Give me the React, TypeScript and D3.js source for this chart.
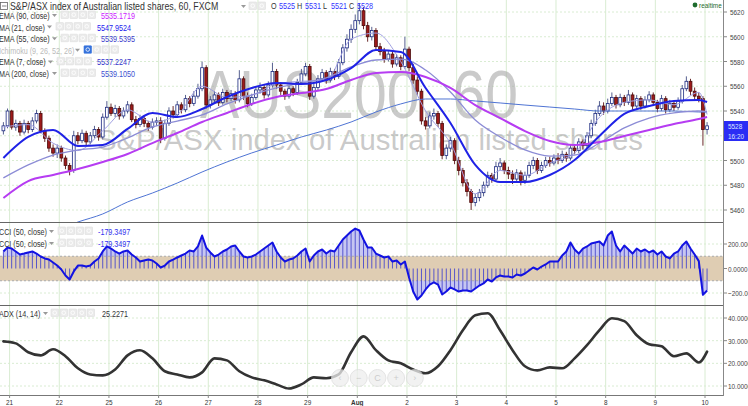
import React from "react";
import * as d3 from "d3";

// ---------- data ----------
const dayLabels = ["21", "22", "25", "26", "27", "28", "29", "Aug", "2", "3", "4", "5", "8", "9", "10"];
const barsPerDay = 12;

// bars as [high, low, close]; every bar opens at the previous close
const firstOpen = 5524;
const jul20 = [[5531, 5521, 5528], [5542, 5526, 5540]];
const jul21 = [[5541, 5525, 5527], [5533, 5524, 5530], [5532, 5520, 5523], [5533, 5521, 5530], [5532, 5522, 5525], [5535, 5523, 5532], [5541, 5530, 5538], [5540, 5522, 5524], [5526, 5515, 5518], [5520, 5507, 5510], [5513, 5503, 5506], [5513, 5502, 5510]];
const jul22 = [[5512, 5499, 5502], [5504, 5493, 5496], [5498, 5488, 5492], [5524, 5490, 5520], [5523, 5513, 5516], [5525, 5514, 5522], [5524, 5512, 5515], [5523, 5513, 5520], [5528, 5518, 5525], [5527, 5516, 5519], [5538, 5517, 5535], [5548, 5533, 5543]];
const jul25 = [[5546, 5536, 5538], [5545, 5535, 5542], [5544, 5533, 5536], [5543, 5534, 5540], [5548, 5538, 5545], [5547, 5531, 5533], [5536, 5526, 5529], [5537, 5527, 5534], [5536, 5527, 5530], [5532, 5524, 5527], [5534, 5525, 5531], [5535, 5528, 5532]];
const jul26 = [[5535, 5514, 5518], [5533, 5516, 5530], [5543, 5528, 5540], [5544, 5534, 5537], [5548, 5535, 5545], [5547, 5538, 5541], [5553, 5539, 5550], [5552, 5543, 5546], [5556, 5544, 5552], [5562, 5550, 5558], [5580, 5556, 5575], [5577, 5542, 5545]];
const jul27 = [[5552, 5542, 5549], [5556, 5546, 5553], [5555, 5544, 5547], [5558, 5545, 5555], [5557, 5547, 5550], [5557, 5548, 5554], [5556, 5546, 5549], [5573, 5547, 5566], [5568, 5549, 5552], [5555, 5543, 5546], [5554, 5544, 5551], [5560, 5549, 5557]];
const jul28 = [[5563, 5554, 5559], [5561, 5550, 5553], [5564, 5551, 5561], [5579, 5559, 5572], [5574, 5558, 5561], [5563, 5553, 5556], [5558, 5549, 5552], [5561, 5550, 5558], [5560, 5552, 5555], [5566, 5553, 5563], [5574, 5561, 5570], [5579, 5568, 5576]];
const jul29 = [[5578, 5549, 5552], [5562, 5550, 5559], [5569, 5557, 5566], [5574, 5564, 5571], [5573, 5562, 5565], [5575, 5563, 5572], [5574, 5565, 5568], [5582, 5566, 5579], [5594, 5577, 5591], [5602, 5588, 5598], [5610, 5595, 5606], [5618, 5603, 5613]];
const aug1 = [[5627, 5610, 5621], [5624, 5606, 5609], [5612, 5596, 5600], [5608, 5597, 5605], [5607, 5589, 5592], [5595, 5585, 5588], [5591, 5579, 5582], [5589, 5580, 5586], [5588, 5575, 5578], [5586, 5576, 5583], [5585, 5573, 5576], [5600, 5574, 5590]];
const aug2 = [[5592, 5572, 5575], [5578, 5562, 5565], [5568, 5553, 5556], [5558, 5529, 5532], [5535, 5525, 5528], [5539, 5526, 5536], [5542, 5533, 5538], [5540, 5527, 5530], [5532, 5501, 5504], [5513, 5501, 5510], [5519, 5507, 5516], [5518, 5497, 5500]];
const aug3 = [[5503, 5488, 5492], [5494, 5479, 5482], [5485, 5471, 5475], [5477, 5460, 5466], [5473, 5463, 5470], [5477, 5467, 5474], [5483, 5471, 5480], [5491, 5478, 5488], [5490, 5482, 5485], [5499, 5483, 5495], [5502, 5492, 5498], [5500, 5489, 5492]];
const aug4 = [[5495, 5485, 5489], [5492, 5481, 5485], [5493, 5482, 5490], [5492, 5480, 5484], [5491, 5481, 5488], [5499, 5486, 5496], [5503, 5493, 5500], [5502, 5489, 5492], [5499, 5490, 5496], [5503, 5494, 5500], [5503, 5495, 5498], [5505, 5496, 5502]];
const aug5 = [[5506, 5497, 5500], [5508, 5498, 5505], [5507, 5499, 5502], [5513, 5500, 5510], [5512, 5505, 5508], [5518, 5506, 5515], [5517, 5509, 5512], [5523, 5510, 5520], [5533, 5518, 5530], [5541, 5528, 5538], [5548, 5536, 5544], [5547, 5537, 5540]];
const aug8 = [[5550, 5538, 5546], [5555, 5544, 5551], [5553, 5542, 5545], [5554, 5543, 5551], [5553, 5544, 5547], [5557, 5545, 5553], [5555, 5541, 5544], [5553, 5542, 5550], [5552, 5541, 5544], [5552, 5542, 5549], [5556, 5547, 5553], [5555, 5544, 5547]];
const aug9 = [[5549, 5539, 5542], [5553, 5540, 5550], [5552, 5538, 5541], [5549, 5539, 5546], [5548, 5540, 5543], [5551, 5541, 5548], [5561, 5546, 5558], [5568, 5556, 5564], [5566, 5553, 5556], [5559, 5549, 5552], [5555, 5547, 5550], [5552, 5512, 5525]];
const aug10 = [[5531, 5521, 5528]];
const dayBars = [jul20, jul21, jul22, jul25, jul26, jul27, jul28, jul29, aug1, aug2, aug3, aug4, aug5, aug8, aug9, aug10];

// moving averages, one reading every 6 bars (plus the last bar)
const ema90 = [5469.7, 5483.4, 5488.3, 5493.1, 5498.8, 5505.3, 5514.1, 5522.2, 5531.1, 5538.4, 5545.7, 5551.3, 5554.5, 5557.8, 5565.1, 5570.7, 5571.5, 5567.5, 5558.6, 5544.8, 5534.3, 5523.8, 5515.8, 5512.5, 5514.9, 5519.8, 5524.6, 5529.5, 5533.5, 5535.2];
const ma21 = [5502.0, 5519.0, 5524.6, 5511.7, 5512.5, 5525.5, 5538.4, 5535.2, 5541.6, 5551.3, 5558.6, 5562.6, 5561.8, 5565.1, 5574.7, 5589.3, 5587.7, 5558.6, 5530.3, 5496.4, 5482.6, 5482.6, 5488.3, 5500.4, 5519.8, 5537.6, 5544.0, 5548.1, 5548.9, 5547.3];
const ema55 = [5485.9, 5496.4, 5504.4, 5508.5, 5510.9, 5518.2, 5527.1, 5531.9, 5536.8, 5545.7, 5552.9, 5558.6, 5562.6, 5566.7, 5575.6, 5581.2, 5582.0, 5573.1, 5555.4, 5532.7, 5519.0, 5508.5, 5503.6, 5504.4, 5514.1, 5526.3, 5534.3, 5538.4, 5540.0, 5539.5];
const ema7 = [5527, 5529, 5514, 5508, 5524, 5541, 5531, 5537, 5560, 5551, 5553, 5562, 5564, 5565, 5598, 5603, 5580, 5540, 5514, 5473, 5492, 5488, 5498, 5506, 5535, 5547, 5549, 5545, 5555, 5537.2];
// MA 200 enters the panel from below, readings from bar 12 on
const ma200 = [5443.0, 5450.3, 5456.8, 5466.5, 5473.7, 5481.8, 5490.7, 5498.8, 5506.1, 5512.5, 5519.0, 5524.6, 5531.1, 5539.2, 5545.7, 5549.7, 5549.7, 5548.1, 5546.5, 5544.8, 5543.2, 5541.6, 5540.0, 5540.0, 5540.0, 5540.0, 5539.2, 5539.1];

// CCI (50), one value per bar
const cciJul20 = [139, 171];
const cciJul21 = [163, 139, 114, 122, 131, 139, 122, 98, 82, 73, 49, 24];
const cciJul22 = [-8, -57, -90, -24, 24, 24, 16, 24, 57, 82, 139, 180];
const cciJul25 = [163, 139, 122, 139, 147, 114, 90, 57, 65, 73, 65, 41];
const cciJul26 = [8, 24, 57, 73, 90, 106, 122, 147, 139, 180, 269, 171];
const cciJul27 = [131, 98, 114, 139, 155, 180, 188, 139, 98, 90, 98, 114];
const cciJul28 = [139, 163, 188, 212, 139, 90, 57, 73, 82, 106, 139, 163];
const cciJul29 = [57, 106, 139, 155, 122, 147, 139, 188, 237, 269, 302, 326];
const cciAug1 = [310, 237, 171, 171, 122, 106, 90, 98, 57, 65, 33, 57];
const cciAug2 = [-73, -188, -253, -220, -171, -131, -114, -131, -212, -188, -155, -171];
const cciAug3 = [-188, -180, -180, -188, -163, -139, -122, -90, -106, -73, -57, -65];
const cciAug4 = [-65, -73, -49, -57, -41, -16, 8, -8, 16, 33, 57, 57];
const cciAug5 = [57, 106, 139, 212, 155, 122, 163, 180, 204, 212, 220, 188];
const cciAug8 = [269, 302, 188, 139, 188, 155, 122, 163, 139, 155, 131, 147];
const cciAug9 = [114, 139, 98, 82, 122, 139, 188, 220, 163, 114, 60, -215];
const cciAug10 = [-179.35];
const cciDays = [cciJul20, cciJul21, cciJul22, cciJul25, cciJul26, cciJul27, cciJul28, cciJul29, cciAug1, cciAug2, cciAug3, cciAug4, cciAug5, cciAug8, cciAug9, cciAug10];

// ADX (14, 14), one reading every 3 bars (plus the last bar)
const adx = [29.7, 28.8, 24.9, 23.5, 26.2, 23.1, 17.8, 15.1, 14.7, 17.3, 23.5, 25.8, 22.2, 16.5, 15.1, 13.8, 16.0, 22.2, 21.3, 16.5, 13.8, 12.5, 10.7, 8.9, 10.7, 13.8, 13.4, 15.1, 24.9, 31.9, 25.8, 21.3, 20.0, 17.3, 15.6, 18.7, 25.8, 34.6, 41.2, 42.1, 34.6, 25.8, 18.7, 16.9, 18.2, 17.8, 22.2, 28.0, 34.6, 39.9, 38.6, 32.4, 28.4, 27.5, 23.1, 24.4, 20.4, 25.2];

const priceTicks = [5460, 5480, 5500, 5520, 5540, 5560, 5580, 5600, 5620];
const hiddenPriceLabel = 5520; // covered by the last-price boxes in the reference
const cciTicks = [200, 0, -200];
const adxTicks = [40, 30, 20, 10];

const legendLabels = ["EMA (90, close)", "MA (21, close)", "EMA (55, close)", "Ichimoku (9, 26, 52, 26)", "EMA (7, close)", "MA (200, close)"];
const legendValues = ["5535.1719", "5547.9524", "5539.5395", "", "5537.2247", "5539.1050"];
const ohlcLabels = ["O", "H", "L", "C"];
const ohlcValues = ["5525", "5531", "5521", "5528"];

// ---------- layout ----------
const W = 748;
const H = 406;
const R = 723; // right edge of plotting area
const MAIN = [0, 222];
const CCI = [223, 305];
const ADX = [306, 395];
const FONT = "'Liberation Sans', Arial, sans-serif";
const SQ = 0.8; // the screenshot is horizontally squeezed

const legendStyle = [
  { color: "#cc22ff", box: 61, val: 101 },
  { color: "#2222ee", box: 56, val: 97 },
  { color: "#4040cc", box: 61, val: 101 },
  { color: "#bbbbbb", box: 84, val: 0 },
  { color: "#3434cc", box: 57, val: 97 },
  { color: "#4050d0", box: 61, val: 101 },
];

const T = ({ x, y, size = 9, fill = "#333", anchor = "start", weight = 400, sq = SQ, children }: any) => (
  <text
    transform={`translate(${x},${y}) scale(${sq},1)`}
    fontSize={size}
    fill={fill}
    textAnchor={anchor}
    fontWeight={weight}
  >
    {children}
  </text>
);

const Boxes = ({ x, y, n = 4, first }: any) => (
  <g>
    {d3.range(n).map((k) => (
      <g key={k}>
        <rect
          x={x + k * 9}
          y={y - 8}
          width={7.5}
          height={7.5}
          rx={0.5}
          fill={k === 0 && first ? first : "#ebebeb"}
          stroke={k === 0 && first ? first : "#dddddd"}
          strokeWidth={0.6}
        />
        <circle cx={x + k * 9 + 3.75} cy={y - 4.25} r={1.8} fill="none" stroke="#fff" strokeWidth={0.8} />
      </g>
    ))}
  </g>
);

const Caret = ({ x, y }: any) => <path d={`M${x},${y - 4}h5l-2.5,3z`} fill="#999" />;

export default function App() {
  let open = firstOpen;
  const bars = dayBars.flat().map(([h, l, c]) => {
    const b = { o: open, h, l, c };
    open = c;
    return b;
  });
  const cci = cciDays.flat();

  const x = d3.scaleLinear().domain([1.5, 1.5 + barsPerDay * 14]).range([9.6, 705]);
  const y = d3.scaleLinear().domain([5460, 5620]).range([210, 12]);
  const yc = d3.scaleLinear().domain([-200, 200]).range([293, 244]);
  const ya = d3.scaleLinear().domain([10, 40]).range([386, 318]);

  const dayX = dayLabels.map((_, k) => x(1.5 + barsPerDay * k));
  const maIdx = d3.range(0, 169, 6).concat(170);
  const ma200Idx = d3.range(12, 169, 6).concat(170);
  const adxIdx = d3.range(0, 169, 3).concat(170);

  const priceLine = (idx: number[], vals: number[]) =>
    d3
      .line<number>()
      .x((_, k) => x(idx[k]))
      .y((v) => y(v))
      .curve(d3.curveMonotoneX)(vals) || "";

  const cciLine = d3
    .line<number>()
    .x((_, i) => x(i))
    .y((v) => yc(v))(cci) || "";
  const cciArea = d3
    .area<number>()
    .x((_, i) => x(i))
    .y0(yc(0))
    .y1((v) => yc(v))(cci) || "";
  const adxLine = d3
    .line<number>()
    .x((_, k) => x(adxIdx[k]))
    .y((v) => ya(v))
    .curve(d3.curveMonotoneX)(adx) || "";

  const grid = "#d9ecd2";

  return (
    <svg
      width={W}
      height={H}
      style={{ position: "absolute", left: 0, top: 0, background: "#fff" }}
      fontFamily={FONT}
    >
      <defs>
        <clipPath id="cm"><rect x={0} y={MAIN[0]} width={R} height={MAIN[1] - MAIN[0]} /></clipPath>
        <clipPath id="cc"><rect x={0} y={CCI[0]} width={R} height={CCI[1] - CCI[0]} /></clipPath>
        <clipPath id="ca"><rect x={0} y={ADX[0]} width={R} height={ADX[1] - ADX[0]} /></clipPath>
      </defs>
      <rect width={W} height={H} fill="#fff" />

      {/* grid */}
      {dayX.map((dx, k) => (
        <line key={k} x1={dx} x2={dx} y1={0} y2={ADX[1]} stroke={grid} strokeWidth={1} />
      ))}
      {priceTicks.map((t) => (
        <line key={t} x1={0} x2={R} y1={y(t)} y2={y(t)} stroke={grid} strokeDasharray="2,2" />
      ))}
      {cciTicks.filter((t) => t !== 0).map((t) => (
        <line key={t} x1={0} x2={R} y1={yc(t)} y2={yc(t)} stroke={grid} strokeDasharray="2,2" />
      ))}
      {adxTicks.map((t) => (
        <line key={t} x1={0} x2={R} y1={ya(t)} y2={ya(t)} stroke={grid} strokeDasharray="2,2" />
      ))}

      {/* watermark */}
      <g fill="#a6a6a6" fillOpacity={0.6}>
        <text x={200} y={118} fontSize={68} textLength={318} lengthAdjust="spacingAndGlyphs">AUS200, 60</text>
        <text x={97} y={150} fontSize={30} textLength={546} lengthAdjust="spacingAndGlyphs">S&amp;P/ASX index of Australian listed shares</text>
      </g>

      {/* main panel */}
      <g clipPath="url(#cm)">
        {bars.map((b, i) => {
          const up = b.c >= b.o;
          const top = y(Math.max(b.o, b.c));
          const hgt = Math.max(1, Math.abs(y(b.o) - y(b.c)));
          return (
            <g key={i}>
              <line x1={x(i)} x2={x(i)} y1={y(b.h)} y2={y(b.l)} stroke={up ? "#56608f" : "#6a2a2a"} strokeWidth={1} />
              <rect
                x={x(i) - 1.4}
                y={top}
                width={2.8}
                height={hgt}
                fill={up ? "#ffffff" : "#9e1a1a"}
                stroke={up ? "#1c2a80" : "#4a0c0c"}
                strokeWidth={0.8}
              />
            </g>
          );
        })}
        <path d={priceLine(ma200Idx, ma200)} fill="none" stroke="#4f74d4" strokeWidth={1} />
        <path d={priceLine(maIdx, ema7)} fill="none" stroke="#a0a0e2" strokeWidth={1} />
        <path d={priceLine(maIdx, ema55)} fill="none" stroke="#8c8cd6" strokeWidth={1.3} />
        <path d={priceLine(maIdx, ema90)} fill="none" stroke="#b63cf2" strokeWidth={2} />
        <path d={priceLine(maIdx, ma21)} fill="none" stroke="#1f22e6" strokeWidth={2} />
      </g>

      {/* CCI panel */}
      <g clipPath="url(#cc)">
        <path d={cciArea} fill="#c6c6f2" />
        <rect x={0} y={yc(100)} width={R} height={yc(-100) - yc(100)} fill="#dfcdb3" />
        <line x1={0} x2={R} y1={yc(100)} y2={yc(100)} stroke="#aaa" strokeDasharray="2,2" />
        <line x1={0} x2={R} y1={yc(-100)} y2={yc(-100)} stroke="#aaa" strokeDasharray="2,2" />
        {cci.map((v, i) => (
          <line key={i} x1={x(i)} x2={x(i)} y1={yc(0)} y2={yc(v)} stroke="#4848cc" strokeWidth={0.9} />
        ))}
        <path d={cciLine} fill="none" stroke="#1212e2" strokeWidth={2} strokeLinejoin="round" />
      </g>

      {/* ADX panel */}
      <g clipPath="url(#ca)">
        <path d={adxLine} fill="none" stroke="#333" strokeWidth={2.6} strokeLinejoin="round" strokeLinecap="round" />
      </g>

      {/* frame */}
      <line x1={0} x2={R} y1={222.5} y2={222.5} stroke="#666" />
      <line x1={0} x2={R} y1={305.5} y2={305.5} stroke="#666" />
      <line x1={0} x2={R + 1} y1={395.5} y2={395.5} stroke="#777" />
      <line x1={R + 0.5} x2={R + 0.5} y1={0} y2={396} stroke="#888" />

      {/* right axes */}
      {priceTicks.map((t) => (
        <g key={t}>
          <line x1={R} x2={R + 4} y1={y(t)} y2={y(t)} stroke="#888" />
          {t !== hiddenPriceLabel && (
            <T x={730} y={y(t) + 3} size={8} fill="#444">{d3.format("d")(t)}</T>
          )}
        </g>
      ))}
      {cciTicks.map((t) => (
        <g key={t}>
          <line x1={R} x2={R + 4} y1={yc(t)} y2={yc(t)} stroke="#888" />
          <T x={728} y={yc(t) + 3} size={8} fill="#444">{d3.format(".4f")(t)}</T>
        </g>
      ))}
      {adxTicks.map((t) => (
        <g key={t}>
          <line x1={R} x2={R + 4} y1={ya(t)} y2={ya(t)} stroke="#888" />
          <T x={728} y={ya(t) + 3} size={8} fill="#444">{d3.format(".4f")(t)}</T>
        </g>
      ))}
      <rect x={724} y={121} width={24} height={10} fill="#2a2cf5" />
      <T x={728} y={129} size={8} fill="#dde4ff">5528</T>
      <rect x={724} y={131} width={24} height={10} fill="#2a2cf5" />
      <T x={728} y={139} size={8} fill="#dde4ff">16:20</T>

      {/* date axis */}
      {dayLabels.map((d, k) => (
        <g key={d + k}>
          <line x1={dayX[k]} x2={dayX[k]} y1={395} y2={398} stroke="#888" />
          <T x={dayX[k]} y={405} size={8} fill="#333" anchor="middle" weight={d === "Aug" ? 700 : 400}>{d}</T>
        </g>
      ))}

      {/* navigation buttons */}
      <g opacity={0.75}>
        {["‹", "−", "C", "+", "›"].map((s, k) => (
          <g key={k}>
            <circle cx={340 + k * 18.7} cy={378} r={8.5} fill="#eeeeee" stroke="#dcdcdc" />
            <text x={340 + k * 18.7} y={381} fontSize={9} fill="#bbb" textAnchor="middle">{s}</text>
          </g>
        ))}
      </g>

      {/* header */}
      <rect x={0.5} y={2.5} width={7} height={7} fill="#fff" stroke="#666" strokeWidth={0.8} />
      <line x1={2} x2={6.5} y1={6} y2={6} stroke="#666" strokeWidth={0.8} />
      <T x={10} y={10} size={11} fill="#333">S&amp;P/ASX index of Australian listed shares, 60, FXCM</T>
      <Caret x={241} y={9} />
      <Boxes x={249} y={10} n={2} />
      {ohlcLabels.map((l, k) => (
        <g key={l}>
          <T x={271 + k * 26} y={9} size={9} fill="#333">{l}</T>
          <T x={279 + k * 26} y={9} size={9} fill="#3333ff">{ohlcValues[k]}</T>
        </g>
      ))}
      <circle cx={695} cy={5} r={2.4} fill="#1d6b2d" />
      <T x={699} y={8} size={8} fill="#1d6b2d">realtime</T>

      {/* indicator legend */}
      {legendLabels.map((lab, k) => {
        const st = legendStyle[k];
        const ly = 19 + k * 11.6;
        const grey = k === 3;
        return (
          <g key={lab}>
            <T x={-1} y={ly} size={9} fill={grey ? "#bbbbbb" : "#333"}>{lab}</T>
            <Caret x={st.box - 9} y={ly - 1} />
            <Boxes x={st.box} y={ly} first={grey ? "#3572dc" : undefined} />
            {legendValues[k] && <T x={st.val} y={ly} size={9} fill={st.color}>{legendValues[k]}</T>}
          </g>
        );
      })}
      {[235, 247].map((ly) => (
        <g key={ly}>
          <T x={-1} y={ly} size={9} fill="#333">CCI (50, close)</T>
          <Caret x={49} y={ly - 1} />
          <Boxes x={58} y={ly} />
          <T x={98} y={ly} size={9} fill="#3333ee">-179.3497</T>
        </g>
      ))}
      <T x={-1} y={317} size={9} fill="#333">ADX (14, 14)</T>
      <Caret x={43} y={316} />
      <Boxes x={51} y={317} n={5} />
      <T x={102} y={317} size={9} fill="#333">25.2271</T>
    </svg>
  );
}
